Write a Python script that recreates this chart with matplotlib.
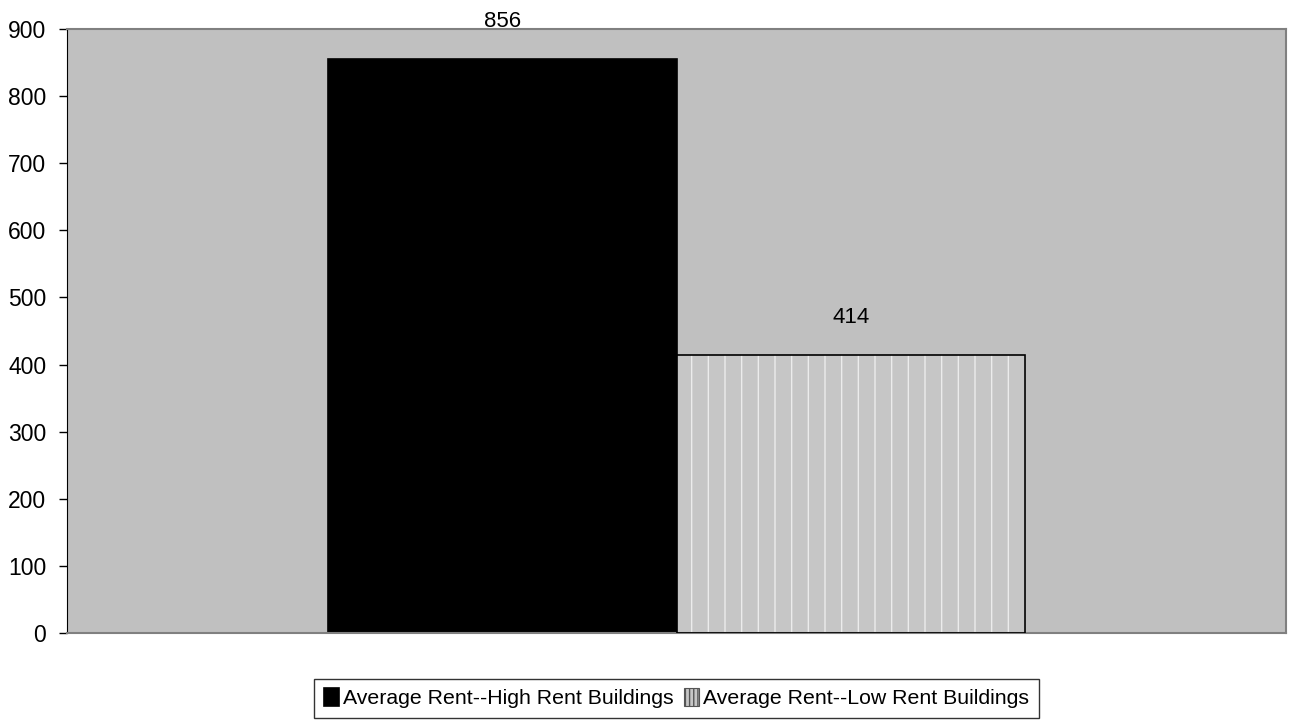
import matplotlib
matplotlib.use("Agg")
import matplotlib.pyplot as plt
import numpy as np

# data
series_labels = ["Average Rent--High Rent Buildings", "Average Rent--Low Rent Buildings"]
values = [856, 414]
y_ticks = [0, 100, 200, 300, 400, 500, 600, 700, 800, 900]

plt.rcParams["font.family"] = ["Liberation Sans", "DejaVu Sans"]
plt.rcParams["hatch.linewidth"] = 1.0

fig = plt.figure(figsize=(12.91, 7.24), dpi=100)
ax = fig.add_axes([67 / 1291, 1 - 633 / 724, (1286 - 67) / 1291, (633 - 29) / 724])
ax.set_facecolor("#c0c0c0")

width = 0.286
xs = np.array([-width / 2, width / 2])

# high rent: solid black
ax.bar(xs[0], values[0], width, color="black", edgecolor="black", lw=1.2, zorder=2,
       label=series_labels[0])
# low rent: light gray with fine vertical pattern
ax.bar(xs[1], values[1], width, color="#c6c6c6", edgecolor="#ececec", hatch="|",
       lw=0, zorder=2)
ax.bar(xs[1], values[1], width, fill=False, edgecolor="black", lw=1.2, zorder=3)
low_handle = plt.Rectangle((0, 0), 1, 1, facecolor="#c6c6c6", edgecolor="#555555",
                           hatch="||||", lw=0.8)

for x, v in zip(xs, values):
    ax.annotate(f"{v}", (x, v), xytext=(0, 27), textcoords="offset points",
                ha="center", va="center", fontsize=16)

ax.set_xlim(-0.5, 0.5)
ax.set_ylim(0, 900)
ax.set_yticks(y_ticks)
ax.set_yticklabels([str(t) for t in y_ticks], fontsize=16.5)
ax.set_xticks([])
ax.tick_params(axis="y", length=6, width=1, color="black", pad=9)

ax.spines["left"].set_color("black")
for s in ["top", "right", "bottom"]:
    ax.spines[s].set_color("#808080")
    ax.spines[s].set_linewidth(1.5)

handles = [ax.patches[0], low_handle]
leg = fig.legend(handles, series_labels, loc="lower center",
                 bbox_to_anchor=((67 + 1286) / 2 / 1291, 6 / 724),
                 ncol=2, frameon=True, fancybox=False,
                 prop={"family": ["Liberation Sans Narrow", "Liberation Sans"], "size": 15.3},
                 handlelength=0.7, handleheight=0.9, handletextpad=0.2,
                 columnspacing=0.5, borderpad=0.45, borderaxespad=0)
leg.get_frame().set_edgecolor("black")
leg.get_frame().set_linewidth(1)

fig.savefig("out.png", dpi=100)
